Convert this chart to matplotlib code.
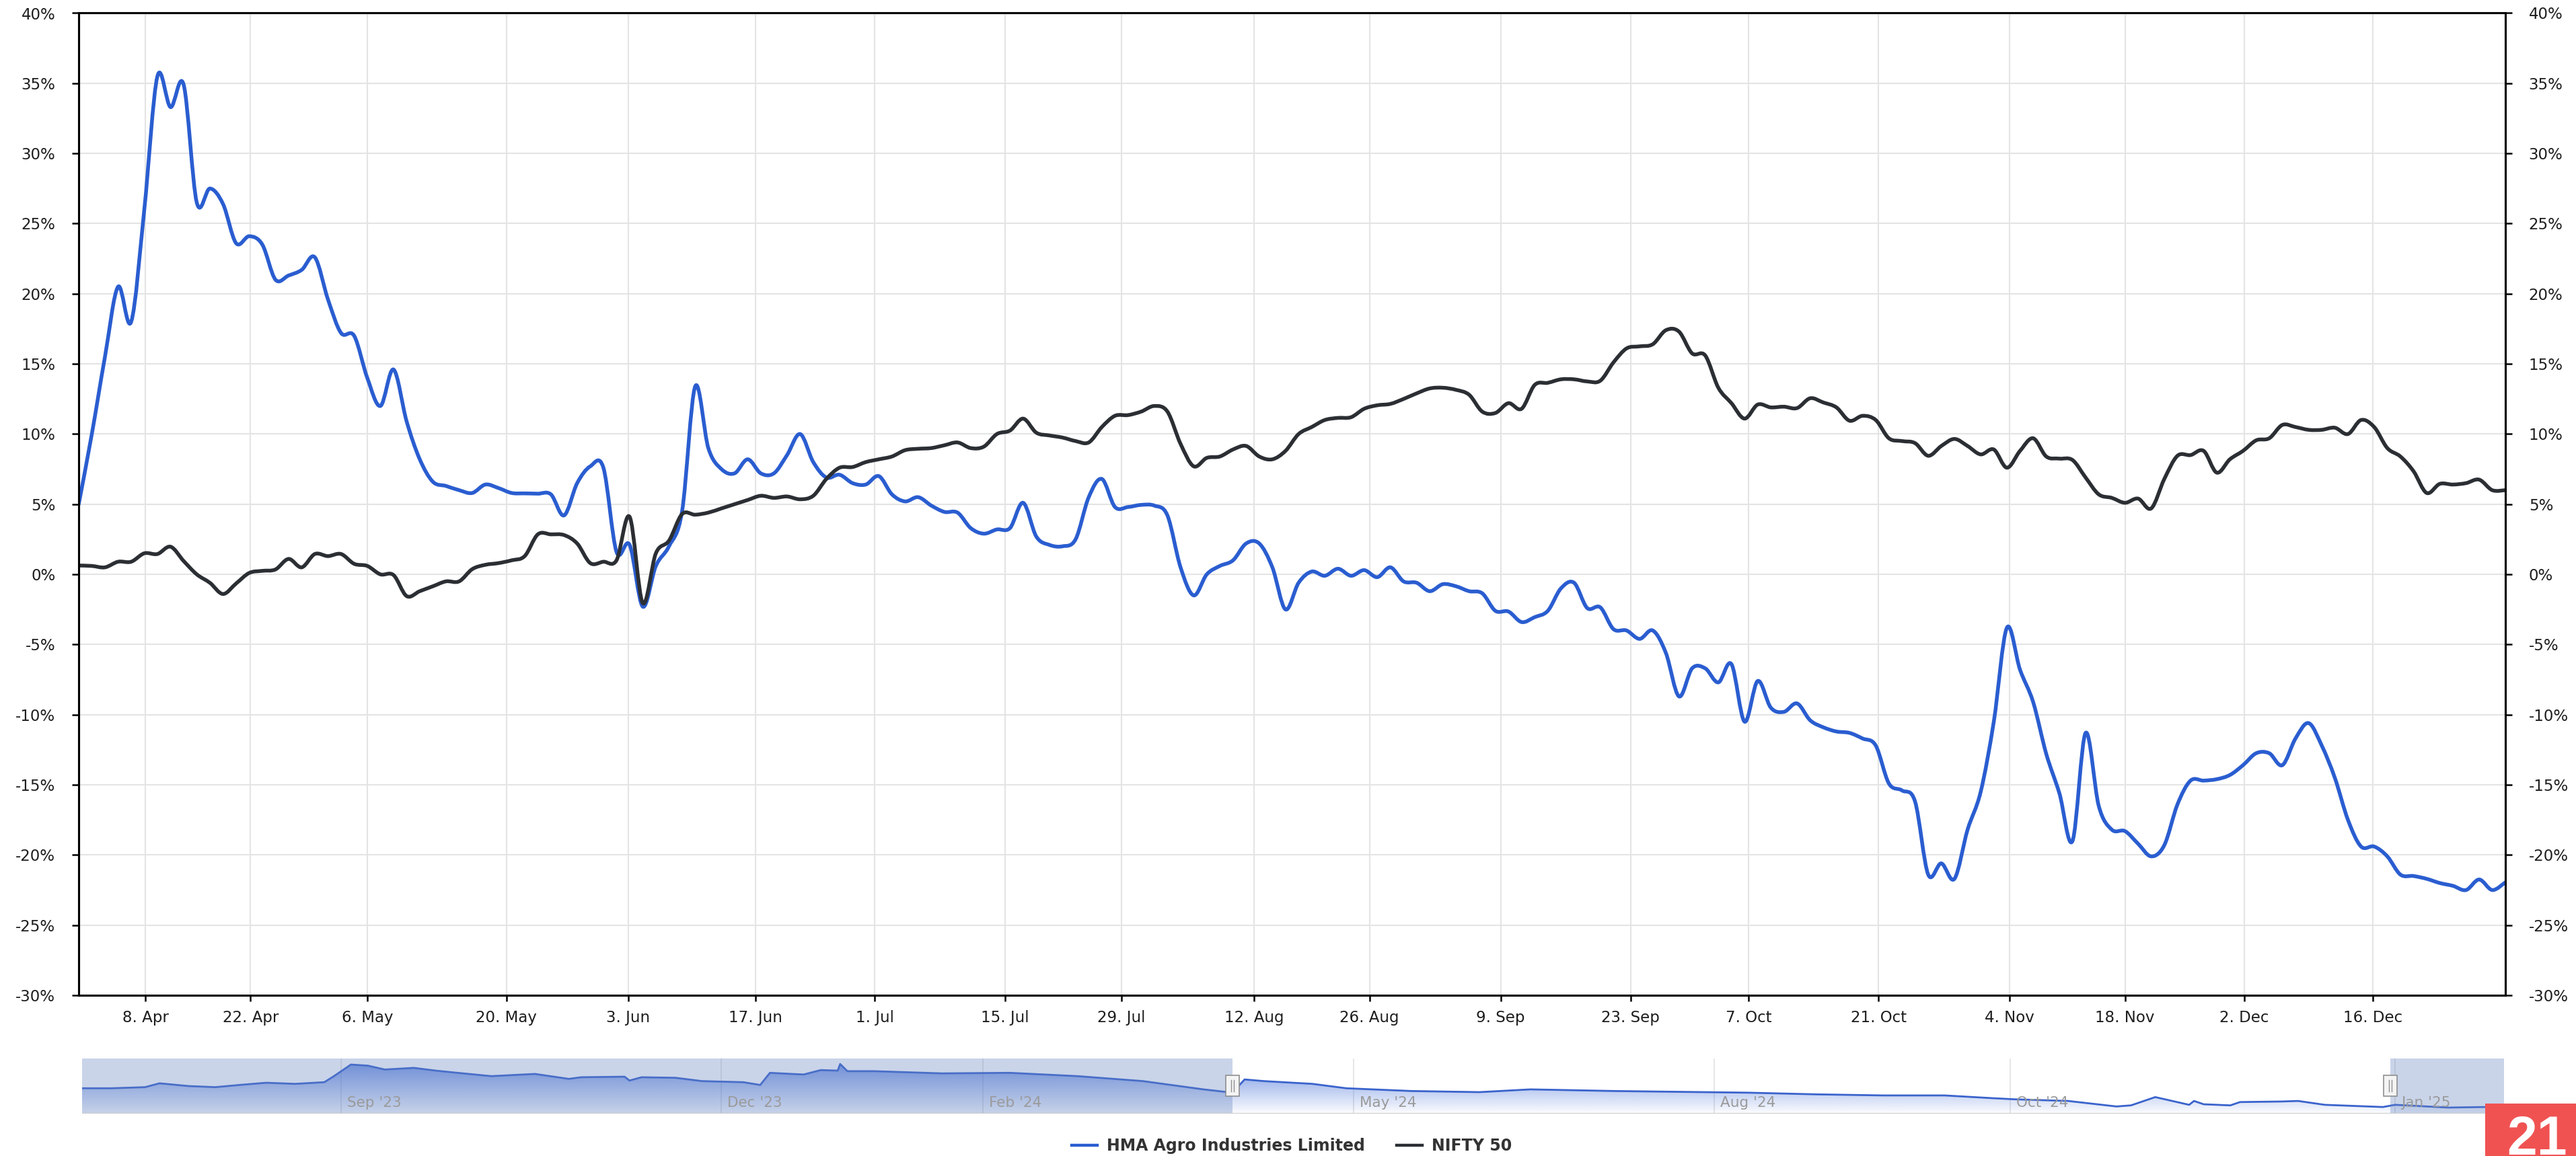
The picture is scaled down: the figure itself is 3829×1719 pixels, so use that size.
import numpy as np
import matplotlib
matplotlib.use("Agg")
import matplotlib.pyplot as plt
from matplotlib.patches import PathPatch, Rectangle
from matplotlib.path import Path
from matplotlib.lines import Line2D

# percent change since 1 Apr 2024, one value per trading day
hma = [
    5.0, 10.0, 15.5, 20.5, 18.0, 26.0, 35.5, 33.3, 34.9, 26.5,
    27.5, 26.4, 23.6, 24.1, 23.5, 21.0, 21.3, 21.7, 22.6, 19.6,
    17.2, 17.0, 14.0, 12.0, 14.6, 10.9, 8.2, 6.6, 6.3, 6.0,
    5.8, 6.4, 6.15, 5.8, 5.77, 5.75, 5.7, 4.2, 6.5, 7.7,
    7.6, 1.6, 2.1, -2.3, 0.6, 2.0, 4.5, 13.4, 9.0, 7.5,
    7.2, 8.2, 7.2, 7.2, 8.5, 10.0, 8.0, 6.9, 7.1, 6.5,
    6.4, 7.0, 5.7, 5.2, 5.5, 4.9, 4.45, 4.4, 3.3, 2.9,
    3.2, 3.3, 5.1, 2.7, 2.1, 2.0, 2.5, 5.5, 6.8, 4.8,
    4.8, 4.95, 4.9, 4.2, 0.5, -1.5, 0.0, 0.6, 1.0, 2.2,
    2.2, 0.5, -2.5, -0.6, 0.2, -0.1, 0.4, -0.1, 0.3, -0.2,
    0.5, -0.5, -0.6, -1.2, -0.7, -0.85, -1.2, -1.35, -2.6, -2.65,
    -3.4, -3.05, -2.6, -1.0, -0.6, -2.4, -2.35, -3.9, -4.0, -4.6,
    -4.0, -5.6, -8.7, -6.7, -6.7, -7.7, -6.4, -10.5, -7.6, -9.5,
    -9.8, -9.2, -10.4, -10.9, -11.2, -11.3, -11.7, -12.2, -14.9, -15.4,
    -16.2, -21.4, -20.6, -21.7, -18.2, -15.5, -10.5, -3.8, -6.8, -9.1,
    -12.8, -15.6, -19.0, -11.3, -16.5, -18.2, -18.3, -19.2, -20.1, -19.3,
    -16.4, -14.7, -14.7, -14.6, -14.3, -13.6, -12.75, -12.75, -13.6, -11.7,
    -10.6, -12.2, -14.5, -17.5, -19.4, -19.4, -20.1, -21.4, -21.5, -21.7,
    -22.0, -22.2, -22.5, -21.75, -22.5, -21.95,
]

nifty = [
    0.63, 0.6, 0.5, 0.9, 0.9, 1.5, 1.45, 1.97, 0.95, 0.0,
    -0.6, -1.4, -0.65, 0.1, 0.25, 0.35, 1.1, 0.5, 1.45, 1.3,
    1.45, 0.75, 0.6, 0.0, -0.05, -1.55, -1.2, -0.85, -0.5, -0.5,
    0.37, 0.68, 0.8, 1.0, 1.3, 2.85, 2.85, 2.8, 2.2, 0.8,
    0.9, 1.0, 4.1, -2.05, 1.5, 2.4, 4.3, 4.25, 4.4, 4.7,
    5.0, 5.3, 5.6, 5.45, 5.55, 5.35, 5.6, 6.8, 7.6, 7.65,
    8.0, 8.2, 8.4, 8.85, 8.95, 9.0, 9.2, 9.4, 9.0, 9.1,
    10.0, 10.25, 11.1, 10.1, 9.9, 9.75, 9.5, 9.4, 10.5, 11.3,
    11.35, 11.6, 12.0, 11.6, 9.3, 7.7, 8.3, 8.4, 8.9, 9.15,
    8.4, 8.2, 8.8, 10.0, 10.5, 11.0, 11.15, 11.2, 11.8, 12.05,
    12.15, 12.5, 12.9, 13.25, 13.3, 13.15, 12.8, 11.6, 11.5, 12.2,
    11.8, 13.5, 13.65, 13.9, 13.9, 13.75, 13.8, 15.1, 16.1, 16.25,
    16.4, 17.4, 17.3, 15.75, 15.6, 13.3, 12.2, 11.1, 12.1, 11.9,
    11.95, 11.85, 12.55, 12.25, 11.9, 10.95, 11.3, 11.0, 9.7, 9.5,
    9.35, 8.45, 9.15, 9.65, 9.15, 8.55, 8.9, 7.6, 8.8, 9.7,
    8.4, 8.25, 8.15, 6.9, 5.7, 5.45, 5.1, 5.4, 4.7, 6.8,
    8.45, 8.5, 8.8, 7.25, 8.2, 8.8, 9.55, 9.7, 10.65, 10.5,
    10.3, 10.3, 10.45, 10.0, 11.0, 10.5, 9.0, 8.4, 7.35, 5.8,
    6.45, 6.4, 6.5, 6.75, 6.0, 6.0,
]

# x axis ticks (position in trading days from 1 Apr)
tick_pos = [5.1, 13.1, 22.0, 32.6, 41.9, 51.6, 60.7, 70.6, 79.5, 89.6,
            98.4, 108.4, 118.3, 127.3, 137.2, 147.2, 156.0, 165.1, 174.9]
tick_labels = ["8. Apr", "22. Apr", "6. May", "20. May", "3. Jun", "17. Jun",
               "1. Jul", "15. Jul", "29. Jul", "12. Aug", "26. Aug", "9. Sep",
               "23. Sep", "7. Oct", "21. Oct", "4. Nov", "18. Nov", "2. Dec",
               "16. Dec"]

# navigator: long history (position 0-100 along the navigator, relative level 0-100)
nav_t = [0, 1.2, 2.6, 3.2, 4.4, 5.5, 6.5, 7.6, 8.8, 10.0, 10.4, 11.1, 11.8,
         12.5, 13.7, 14.6, 15.5, 16.9, 18.7, 20.1, 20.6, 22.4, 22.6, 23.1,
         24.5, 25.6, 27.3, 28.0, 28.4, 29.3, 29.8, 30.5, 31.2, 31.3, 31.6,
         32.7, 35.5, 38.3, 41.1, 43.8, 46.3, 47.5, 48.0, 48.8, 50.8, 52.2,
         54.9, 57.7, 59.8, 63.3, 68.8, 71.6, 74.4, 76.9, 78.9, 79.8, 82.0,
         84.0, 84.6, 85.6, 87.0, 87.2, 87.6, 88.7, 89.1, 90.8, 91.5, 92.6,
         95.0, 95.5, 97.7, 99.2, 100]
nav_v = [46, 46, 48, 55, 50, 48, 52, 56, 54, 57, 68, 89, 87,
         80, 83, 78, 74, 68, 72, 63, 66, 67, 60, 66,
         65, 59, 57, 52, 74, 72, 71, 79, 78, 90, 77,
         77, 73, 74, 68, 59, 44, 38, 62, 59, 54, 46,
         41, 39, 44, 41, 38, 35, 33, 33, 28, 26, 23,
         13, 15, 30, 16, 23, 17, 15, 21, 22, 23, 16,
         12, 16, 11, 12, 11]
nav_label_pos = [10.7, 26.4, 37.2, 52.5, 67.4, 79.6, 95.5]
nav_labels = ["Sep '23", "Dec '23", "Feb '24", "May '24", "Aug '24", "Oct '24", "Jan '25"]
sel_start, sel_end = 47.5, 95.3

W, H = 3829, 1719
BLUE = "#2a5dd0"
DARK = "#2b2f34"
TXT = "#1e1e1e"

plt.rcParams["font.family"] = ["DejaVu Sans"]


def fx(px):
    return px / W


def fy(py):
    return 1 - py / H


def spline_path(x, y):
    # smooth curve through the points (like a Highcharts spline series)
    pts = np.column_stack([x, y]).astype(float)
    n = len(pts)
    verts = [pts[0]]
    codes = [Path.MOVETO]
    for i in range(n - 1):
        p0 = pts[max(i - 1, 0)]
        p1 = pts[i]
        p2 = pts[i + 1]
        p3 = pts[min(i + 2, n - 1)]
        verts += [p1 + (p2 - p0) / 6, p2 - (p3 - p1) / 6, p2]
        codes += [Path.CURVE4] * 3
    return Path(verts, codes)


fig = plt.figure(figsize=(W / 100, H / 100), dpi=100)
fig.patch.set_facecolor("white")

# main chart
ax = fig.add_axes([fx(117), fy(1480), (3724 - 117) / W, (1480 - 19.5) / H])
days = np.arange(len(hma))
ax.add_patch(PathPatch(spline_path(days, hma), facecolor="none", edgecolor=BLUE,
                       lw=4.0, joinstyle="round", capstyle="round", zorder=3))
ax.add_patch(PathPatch(spline_path(days, nifty), facecolor="none", edgecolor=DARK,
                       lw=4.0, joinstyle="round", capstyle="round", zorder=4))

ax.set_xlim(0, len(hma) - 1)
ax.set_ylim(-30, 40)
yt = list(range(-30, 41, 5))
ax.set_yticks(yt)
ax.set_yticklabels([f"{v}%" for v in yt])
ax.set_xticks(tick_pos)
ax.set_xticklabels(tick_labels)
ax.grid(color="#e4e4e4", lw=1.5)
ax.set_axisbelow(True)
for s in ax.spines.values():
    s.set_color("black")
    s.set_linewidth(2.2)
ax.tick_params(axis="x", direction="out", length=6.5, width=1.8, pad=9,
               labelsize=16.5, labelcolor=TXT)
ax.tick_params(axis="y", direction="out", length=7, width=1.8, pad=18,
               labelsize=16.5, labelcolor=TXT)

ax2 = ax.twinx()
ax2.set_ylim(-30, 40)
ax2.set_yticks(yt)
ax2.set_yticklabels([f"{v}%" for v in yt])
ax2.tick_params(axis="y", direction="out", length=7, width=1.8, pad=18,
                labelsize=16.5, labelcolor=TXT)
for s in ax2.spines.values():
    s.set_color("black")
    s.set_linewidth(2.2)

# navigator
nav = fig.add_axes([fx(122), fy(1656), (3722 - 122) / W, (1656 - 1574) / H])
nav.set_xlim(0, 100)
nav.set_ylim(0, 100)
nav.axis("off")
for p in nav_label_pos:
    nav.axvline(p, color="#e2e2e2", lw=1.2, zorder=0)

poly = nav.fill_between(nav_t, nav_v, 0, color="none")
grad = np.zeros((100, 2, 4))
grad[..., 0] = 0.22
grad[..., 1] = 0.40
grad[..., 2] = 0.84
grad[..., 3] = np.linspace(0.02, 0.75, 100)[:, None]
im = nav.imshow(grad, extent=[0, 100, 0, 100], origin="lower", aspect="auto",
                interpolation="bilinear", zorder=1)
clip = PathPatch(poly.get_paths()[0], transform=nav.transData,
                 facecolor="none", edgecolor="none")
nav.add_patch(clip)
im.set_clip_path(clip)
nav.plot(nav_t, nav_v, color="#3a63cc", lw=2.0, zorder=2)

nav.axvspan(0, sel_start, color="#6685c2", alpha=0.35, lw=0, zorder=3)
nav.axvspan(sel_end, 100, color="#6685c2", alpha=0.35, lw=0, zorder=3)
nav.axhline(0, color="#cccccc", lw=1.5, zorder=4)

for p, lab in zip(nav_label_pos, nav_labels):
    nav.text(p + 0.25, 19.5, lab, ha="left", va="center", fontsize=15.5,
             color="#9a9a9a", zorder=5)

for h in (sel_start, sel_end):
    nav.add_patch(Rectangle((h - 0.28, 32), 0.56, 37, facecolor="#f4f4f4",
                            edgecolor="#8f8f8f", lw=1.2, zorder=6))
    for dx in (-0.06, 0.06):
        nav.plot([h + dx, h + dx], [40, 61], color="#8f8f8f", lw=1, zorder=7)

# legend
handles = [Line2D([], [], color=BLUE, lw=3.2), Line2D([], [], color=DARK, lw=3.2)]
fig.legend(handles, ["HMA Agro Industries Limited", "NIFTY 50"], loc="center",
           bbox_to_anchor=(fx(1920), fy(1704)), ncol=2, frameon=False,
           prop={"size": 17, "weight": "bold"}, handlelength=1.6,
           handletextpad=0.6, columnspacing=2.0, labelcolor="#333333")

# page number badge
fig.patches.append(Rectangle((fx(3694), 0), 1 - fx(3694), (H - 1641) / H,
                             transform=fig.transFigure, facecolor="#f05252",
                             edgecolor="none", zorder=10))
fig.text(fx(3771), fy(1658), "21", ha="center", va="top", color="white",
         fontsize=58, fontweight="bold", family="Liberation Sans", zorder=11)

fig.savefig("out.png", dpi=100, facecolor="white")
